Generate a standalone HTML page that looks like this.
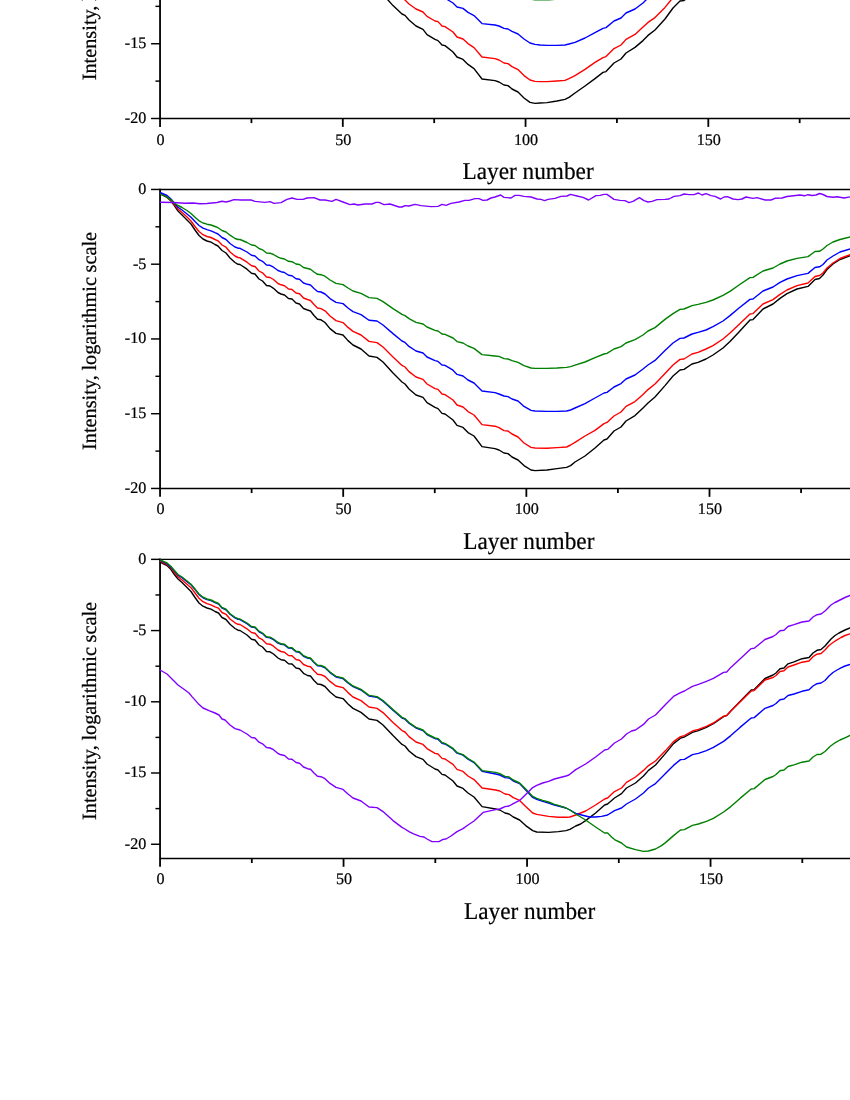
<!DOCTYPE html>
<html><head><meta charset="utf-8"><title>chart</title>
<style>
html,body{margin:0;padding:0;background:#fff;}
body{width:850px;height:1100px;overflow:hidden;}
svg{display:block;will-change:transform;text-rendering:geometricPrecision;}
text{stroke:#000;stroke-width:0.22px;font-family:"Liberation Serif",serif;fill:#000;}
</style></head><body>
<svg width="850" height="1100" viewBox="0 0 850 1100">
<rect width="850" height="1100" fill="#fff"/>
<g>
<line x1="160.05" y1="-2.00" x2="160.05" y2="119.22" stroke="#000" stroke-width="1.8"/>
<line x1="160.05" y1="118.50" x2="850.00" y2="118.50" stroke="#000" stroke-width="1.45"/>
<line x1="160.05" y1="118.50" x2="160.05" y2="126.90" stroke="#000" stroke-width="1.8"/>
<text x="160.45" y="144.50" font-size="16.1" text-anchor="middle" >0</text>
<line x1="342.80" y1="118.50" x2="342.80" y2="126.90" stroke="#000" stroke-width="1.8"/>
<text x="343.20" y="144.50" font-size="16.1" text-anchor="middle" >50</text>
<line x1="525.55" y1="118.50" x2="525.55" y2="126.90" stroke="#000" stroke-width="1.8"/>
<text x="525.95" y="144.50" font-size="16.1" text-anchor="middle" >100</text>
<line x1="708.30" y1="118.50" x2="708.30" y2="126.90" stroke="#000" stroke-width="1.8"/>
<text x="708.70" y="144.50" font-size="16.1" text-anchor="middle" >150</text>
<line x1="251.43" y1="118.50" x2="251.43" y2="123.10" stroke="#000" stroke-width="1.8"/>
<line x1="434.18" y1="118.50" x2="434.18" y2="123.10" stroke="#000" stroke-width="1.8"/>
<line x1="616.92" y1="118.50" x2="616.92" y2="123.10" stroke="#000" stroke-width="1.8"/>
<line x1="799.67" y1="118.50" x2="799.67" y2="123.10" stroke="#000" stroke-width="1.8"/>
<line x1="151.05" y1="43.75" x2="160.05" y2="43.75" stroke="#000" stroke-width="1.45"/>
<text x="146.30" y="48.15" font-size="16.1" text-anchor="end" >-15</text>
<line x1="151.05" y1="118.50" x2="160.05" y2="118.50" stroke="#000" stroke-width="1.45"/>
<text x="146.30" y="122.90" font-size="16.1" text-anchor="end" >-20</text>
<line x1="155.45" y1="6.35" x2="160.05" y2="6.35" stroke="#000" stroke-width="1.45"/>
<line x1="155.45" y1="81.10" x2="160.05" y2="81.10" stroke="#000" stroke-width="1.45"/>
<text transform="translate(528.05,179.3) scale(0.962,1)" font-size="24.2" text-anchor="middle">Layer number</text>
<text transform="translate(96,80.3) rotate(-90)" font-size="20.3" text-anchor="start" word-spacing="-0.4">Intensity, logarithmic scale</text>
<line x1="160.05" y1="188.72" x2="160.05" y2="489.18" stroke="#000" stroke-width="1.8"/>
<line x1="160.05" y1="189.45" x2="850.00" y2="189.45" stroke="#000" stroke-width="1.45"/>
<line x1="160.05" y1="488.45" x2="850.00" y2="488.45" stroke="#000" stroke-width="1.45"/>
<line x1="160.05" y1="488.45" x2="160.05" y2="496.85" stroke="#000" stroke-width="1.8"/>
<text x="160.45" y="514.45" font-size="16.1" text-anchor="middle" >0</text>
<line x1="343.20" y1="488.45" x2="343.20" y2="496.85" stroke="#000" stroke-width="1.8"/>
<text x="343.60" y="514.45" font-size="16.1" text-anchor="middle" >50</text>
<line x1="526.35" y1="488.45" x2="526.35" y2="496.85" stroke="#000" stroke-width="1.8"/>
<text x="526.75" y="514.45" font-size="16.1" text-anchor="middle" >100</text>
<line x1="709.50" y1="488.45" x2="709.50" y2="496.85" stroke="#000" stroke-width="1.8"/>
<text x="709.90" y="514.45" font-size="16.1" text-anchor="middle" >150</text>
<line x1="251.62" y1="488.45" x2="251.62" y2="493.05" stroke="#000" stroke-width="1.8"/>
<line x1="434.77" y1="488.45" x2="434.77" y2="493.05" stroke="#000" stroke-width="1.8"/>
<line x1="617.92" y1="488.45" x2="617.92" y2="493.05" stroke="#000" stroke-width="1.8"/>
<line x1="801.08" y1="488.45" x2="801.08" y2="493.05" stroke="#000" stroke-width="1.8"/>
<line x1="151.05" y1="189.45" x2="160.05" y2="189.45" stroke="#000" stroke-width="1.45"/>
<text x="146.30" y="193.85" font-size="16.1" text-anchor="end" >0</text>
<line x1="151.05" y1="264.20" x2="160.05" y2="264.20" stroke="#000" stroke-width="1.45"/>
<text x="146.30" y="268.60" font-size="16.1" text-anchor="end" >-5</text>
<line x1="151.05" y1="338.95" x2="160.05" y2="338.95" stroke="#000" stroke-width="1.45"/>
<text x="146.30" y="343.35" font-size="16.1" text-anchor="end" >-10</text>
<line x1="151.05" y1="413.70" x2="160.05" y2="413.70" stroke="#000" stroke-width="1.45"/>
<text x="146.30" y="418.10" font-size="16.1" text-anchor="end" >-15</text>
<line x1="151.05" y1="488.45" x2="160.05" y2="488.45" stroke="#000" stroke-width="1.45"/>
<text x="146.30" y="492.85" font-size="16.1" text-anchor="end" >-20</text>
<line x1="155.45" y1="226.80" x2="160.05" y2="226.80" stroke="#000" stroke-width="1.45"/>
<line x1="155.45" y1="301.60" x2="160.05" y2="301.60" stroke="#000" stroke-width="1.45"/>
<line x1="155.45" y1="376.30" x2="160.05" y2="376.30" stroke="#000" stroke-width="1.45"/>
<line x1="155.45" y1="451.10" x2="160.05" y2="451.10" stroke="#000" stroke-width="1.45"/>
<text transform="translate(528.85,549.3) scale(0.962,1)" font-size="24.2" text-anchor="middle">Layer number</text>
<text transform="translate(96,450.0) rotate(-90)" font-size="20.3" text-anchor="start" word-spacing="-0.4">Intensity, logarithmic scale</text>
<line x1="160.05" y1="558.62" x2="160.05" y2="859.12" stroke="#000" stroke-width="1.8"/>
<line x1="160.05" y1="559.35" x2="850.00" y2="559.35" stroke="#000" stroke-width="1.45"/>
<line x1="160.05" y1="858.40" x2="850.00" y2="858.40" stroke="#000" stroke-width="1.45"/>
<line x1="160.05" y1="858.40" x2="160.05" y2="866.80" stroke="#000" stroke-width="1.8"/>
<text x="160.45" y="884.40" font-size="16.1" text-anchor="middle" >0</text>
<line x1="343.55" y1="858.40" x2="343.55" y2="866.80" stroke="#000" stroke-width="1.8"/>
<text x="343.95" y="884.40" font-size="16.1" text-anchor="middle" >50</text>
<line x1="527.05" y1="858.40" x2="527.05" y2="866.80" stroke="#000" stroke-width="1.8"/>
<text x="527.45" y="884.40" font-size="16.1" text-anchor="middle" >100</text>
<line x1="710.55" y1="858.40" x2="710.55" y2="866.80" stroke="#000" stroke-width="1.8"/>
<text x="710.95" y="884.40" font-size="16.1" text-anchor="middle" >150</text>
<line x1="251.80" y1="858.40" x2="251.80" y2="863.00" stroke="#000" stroke-width="1.8"/>
<line x1="435.30" y1="858.40" x2="435.30" y2="863.00" stroke="#000" stroke-width="1.8"/>
<line x1="618.80" y1="858.40" x2="618.80" y2="863.00" stroke="#000" stroke-width="1.8"/>
<line x1="802.30" y1="858.40" x2="802.30" y2="863.00" stroke="#000" stroke-width="1.8"/>
<line x1="151.05" y1="559.35" x2="160.05" y2="559.35" stroke="#000" stroke-width="1.45"/>
<text x="146.30" y="563.75" font-size="16.1" text-anchor="end" >0</text>
<line x1="151.05" y1="630.57" x2="160.05" y2="630.57" stroke="#000" stroke-width="1.45"/>
<text x="146.30" y="634.97" font-size="16.1" text-anchor="end" >-5</text>
<line x1="151.05" y1="701.80" x2="160.05" y2="701.80" stroke="#000" stroke-width="1.45"/>
<text x="146.30" y="706.20" font-size="16.1" text-anchor="end" >-10</text>
<line x1="151.05" y1="773.00" x2="160.05" y2="773.00" stroke="#000" stroke-width="1.45"/>
<text x="146.30" y="777.40" font-size="16.1" text-anchor="end" >-15</text>
<line x1="151.05" y1="844.25" x2="160.05" y2="844.25" stroke="#000" stroke-width="1.45"/>
<text x="146.30" y="848.65" font-size="16.1" text-anchor="end" >-20</text>
<line x1="155.45" y1="594.95" x2="160.05" y2="594.95" stroke="#000" stroke-width="1.45"/>
<line x1="155.45" y1="666.20" x2="160.05" y2="666.20" stroke="#000" stroke-width="1.45"/>
<line x1="155.45" y1="737.40" x2="160.05" y2="737.40" stroke="#000" stroke-width="1.45"/>
<line x1="155.45" y1="808.60" x2="160.05" y2="808.60" stroke="#000" stroke-width="1.45"/>
<text transform="translate(529.55,919.3) scale(0.962,1)" font-size="24.2" text-anchor="middle">Layer number</text>
<text transform="translate(96,820.0) rotate(-90)" font-size="20.3" text-anchor="start" word-spacing="-0.4">Intensity, logarithmic scale</text>
</g>
<g>
<polyline points="386.0,-2.4 388.0,0.0 393.0,5.6 402.0,14.0 405.0,15.4 409.0,20.0 416.0,26.0 423.0,29.4 427.0,34.6 435.0,39.4 438.0,40.6 442.0,45.0 445.0,45.6 453.0,52.0 457.0,57.0 463.0,59.4 468.0,64.4 474.0,68.6 482.0,79.0 495.0,80.6 499.0,82.0 504.0,85.0 508.0,85.6 512.0,89.0 518.0,92.0 524.0,98.0 530.0,102.4 535.0,103.4 540.0,103.0 547.0,102.6 557.0,101.0 565.0,99.4 569.0,97.4 575.0,93.0 585.0,86.0 595.0,78.6 603.0,72.4 606.0,71.6 614.0,63.0 621.0,59.0 626.0,53.0 635.0,47.4 643.0,40.6 648.0,35.4 655.0,30.0 665.0,19.0 673.0,8.0 680.0,1.0 684.0,0.6 688.0,-3.0" fill="none" stroke="#000000" stroke-width="1.4" stroke-linejoin="round" stroke-linecap="butt"/>
<polyline points="403.0,-2.4 405.0,0.0 409.0,4.0 416.0,9.0 423.0,12.0 427.0,16.4 435.0,21.0 438.0,21.6 442.0,26.0 445.0,26.6 453.0,32.0 457.0,37.0 463.0,39.0 468.0,43.6 474.0,47.6 482.0,57.0 495.0,58.6 499.0,60.0 504.0,63.0 508.0,63.6 512.0,66.6 518.0,69.6 524.0,75.6 530.0,80.0 535.0,81.4 540.0,81.6 547.0,81.6 557.0,81.0 565.0,80.4 569.0,78.6 575.0,75.6 585.0,69.4 595.0,62.4 603.0,57.6 606.0,56.6 614.0,48.6 621.0,45.0 626.0,39.4 635.0,34.4 643.0,27.0 648.0,22.4 655.0,17.6 665.0,7.4 671.0,0.0 673.0,-2.4" fill="none" stroke="#ff0000" stroke-width="1.4" stroke-linejoin="round" stroke-linecap="butt"/>
<polyline points="445.0,-2.0 448.0,0.0 453.0,3.0 457.0,7.0 463.0,8.4 468.0,12.4 474.0,15.6 482.0,23.6 495.0,25.0 499.0,26.0 504.0,28.4 508.0,29.0 512.0,31.4 518.0,34.0 524.0,39.0 530.0,43.0 535.0,44.4 540.0,45.0 547.0,45.4 557.0,45.4 565.0,45.0 569.0,44.0 575.0,42.4 585.0,38.0 595.0,32.6 603.0,28.4 606.0,27.6 614.0,21.0 621.0,18.0 626.0,13.0 635.0,9.0 643.0,3.0 646.0,0.0 648.0,-2.4" fill="none" stroke="#0000ff" stroke-width="1.4" stroke-linejoin="round" stroke-linecap="butt"/>
<polyline points="522.0,-3.0 529.0,-1.0 535.0,-0.3 542.0,-0.1 549.0,-0.3 555.0,-0.7 559.0,-1.0 566.0,-3.0" fill="none" stroke="#008000" stroke-width="1.4" stroke-linejoin="round" stroke-linecap="butt"/>
<polyline points="160.0,193.5 167.0,197.5 171.0,201.0 174.0,205.0 178.0,211.0 182.0,215.0 187.0,220.0 191.0,224.0 195.0,230.0 199.0,235.5 203.0,239.0 207.0,241.0 211.0,242.2 215.0,244.5 218.0,246.0 222.0,250.5 226.0,253.0 230.0,258.0 235.0,262.5 238.0,264.3 240.0,264.5 247.0,269.2 251.5,273.2 255.0,274.0 259.0,279.0 262.5,281.0 266.5,285.5 270.0,286.0 273.5,288.3 278.0,292.5 281.0,294.0 284.5,295.0 288.5,298.5 292.0,299.0 296.0,303.0 299.5,304.0 303.5,308.5 307.5,310.0 310.5,311.0 314.0,315.5 317.5,319.2 321.0,319.8 325.0,322.5 330.0,328.6 336.0,333.4 343.0,335.0 348.0,340.6 353.0,345.0 361.0,349.0 369.0,356.0 377.0,357.4 383.0,362.0 393.0,373.0 402.0,382.0 405.0,384.0 409.0,389.0 416.0,395.0 423.0,397.4 427.0,402.6 435.0,407.4 438.0,408.6 442.0,413.4 445.0,414.0 453.0,420.0 457.0,425.4 463.0,427.4 468.0,432.6 474.0,436.0 482.0,446.6 495.0,448.6 499.0,450.0 504.0,453.0 508.0,453.6 512.0,457.0 518.0,460.0 524.0,465.6 531.0,470.0 535.0,470.6 547.0,470.0 557.0,468.6 566.6,467.4 570.6,465.6 575.0,462.0 585.0,456.0 595.0,448.0 604.0,440.0 607.0,439.0 614.0,431.0 621.0,427.0 626.0,421.0 635.0,415.6 643.0,408.0 648.0,403.0 655.0,397.0 665.0,385.6 673.0,376.0 680.0,370.0 684.0,369.4 692.0,364.0 698.0,362.4 706.0,359.0 713.0,355.0 723.0,348.0 730.0,341.6 739.0,332.0 750.0,320.0 753.0,319.6 763.0,309.0 773.0,304.0 780.0,298.4 787.0,293.6 797.0,289.0 808.0,286.4 815.0,279.5 819.5,278.5 823.0,275.0 827.0,269.5 833.0,264.0 840.0,259.5 851.0,255.3" fill="none" stroke="#000000" stroke-width="1.4" stroke-linejoin="round" stroke-linecap="butt"/>
<polyline points="160.0,193.5 167.0,197.2 171.0,200.5 174.0,204.0 178.0,209.0 182.0,212.5 187.0,217.0 191.0,221.0 195.0,226.5 199.0,231.5 203.0,234.7 207.0,236.5 211.0,237.5 215.0,239.5 218.0,240.8 222.0,245.0 226.0,247.2 230.0,252.0 235.0,256.0 238.0,257.5 240.0,257.8 247.0,262.2 251.5,265.8 255.0,266.5 259.0,271.0 262.5,272.8 266.5,277.0 270.0,277.5 273.5,279.5 278.0,283.5 281.0,284.8 284.5,285.7 288.5,289.0 292.0,289.5 296.0,293.0 299.5,293.7 303.5,298.0 307.5,299.5 310.5,300.5 314.0,304.5 317.5,308.0 321.0,308.6 325.0,310.8 330.0,316.0 336.0,320.6 343.0,322.6 348.0,327.4 353.0,331.4 361.0,335.0 369.0,341.4 377.0,342.6 383.0,347.0 393.0,357.0 402.0,365.4 405.0,367.0 409.0,371.6 416.0,377.0 423.0,379.4 427.0,384.0 435.0,388.6 438.0,389.4 442.0,394.0 445.0,394.6 453.0,400.0 457.0,405.0 463.0,407.0 468.0,411.6 474.0,415.0 482.0,424.6 495.0,426.2 499.0,427.6 504.0,430.6 508.0,431.0 512.0,434.0 518.0,437.0 524.0,443.0 531.0,447.4 535.0,448.0 547.0,448.2 557.0,447.6 566.6,447.0 570.6,445.0 575.0,442.4 585.0,436.0 595.0,430.4 604.0,423.6 607.0,422.4 614.0,416.0 621.0,412.0 626.0,406.4 635.0,401.6 643.0,394.4 648.0,389.6 655.0,384.0 665.0,373.4 673.0,365.0 680.0,359.4 684.0,359.0 692.0,354.0 698.0,352.4 706.0,349.0 713.0,345.6 723.0,339.0 730.0,333.0 739.0,324.4 750.0,314.0 753.0,313.6 763.0,304.0 773.0,299.6 780.0,294.4 787.0,290.0 797.0,285.6 808.0,283.0 815.0,276.5 819.5,275.5 823.0,273.0 827.0,268.0 833.0,263.0 840.0,258.5 851.0,254.3" fill="none" stroke="#ff0000" stroke-width="1.4" stroke-linejoin="round" stroke-linecap="butt"/>
<polyline points="160.0,192.5 167.0,195.5 171.0,199.0 174.0,202.8 178.0,207.2 182.0,210.0 187.0,214.0 191.0,217.2 195.0,221.5 199.0,225.5 203.0,228.2 207.0,229.7 211.0,230.8 215.0,232.7 218.0,234.0 222.0,237.5 226.0,239.5 230.0,243.5 235.0,247.0 238.0,248.2 240.0,248.3 247.0,252.0 251.5,255.3 255.0,256.0 259.0,259.7 262.5,261.3 266.5,265.0 270.0,265.3 273.5,267.2 278.0,270.5 281.0,271.7 284.5,272.5 288.5,275.3 292.0,275.7 296.0,278.7 299.5,279.3 303.5,283.0 307.5,284.3 310.5,285.0 314.0,288.5 317.5,291.5 321.0,292.0 325.0,294.0 330.0,298.6 336.0,302.4 343.0,303.6 348.0,308.0 353.0,311.6 361.0,314.6 369.0,320.2 377.0,321.0 383.0,325.0 393.0,333.6 402.0,341.0 405.0,342.4 409.0,346.4 416.0,351.0 423.0,353.0 427.0,357.0 435.0,360.6 438.0,361.4 442.0,365.0 445.0,365.4 453.0,370.2 457.0,374.4 463.0,376.0 468.0,380.0 474.0,383.0 482.0,391.0 495.0,392.6 499.0,394.0 504.0,396.0 508.0,396.6 512.0,399.0 518.0,401.0 524.0,406.4 531.0,410.4 535.0,411.0 547.0,411.4 557.0,411.4 566.6,411.0 570.6,410.0 575.0,408.0 585.0,403.6 595.0,398.0 604.0,393.0 607.0,392.4 614.0,387.0 621.0,383.6 626.0,379.0 635.0,375.0 643.0,369.0 648.0,365.0 655.0,360.4 665.0,350.4 673.0,343.0 680.0,338.4 684.0,338.0 692.0,334.0 698.0,332.4 706.0,330.0 713.0,326.6 723.0,321.0 730.0,315.6 739.0,308.0 750.0,299.4 753.0,299.0 763.0,291.0 773.0,287.0 780.0,282.4 787.0,279.0 797.0,275.6 808.0,273.4 815.0,267.5 819.5,266.8 823.0,264.5 827.0,260.0 833.0,256.0 840.0,252.0 851.0,248.6" fill="none" stroke="#0000ff" stroke-width="1.4" stroke-linejoin="round" stroke-linecap="butt"/>
<polyline points="160.0,194.2 167.0,197.2 171.0,199.8 174.0,202.8 178.0,205.5 182.0,207.5 187.0,210.5 191.0,213.5 195.0,217.2 199.0,220.8 203.0,223.0 207.0,224.2 211.0,225.0 215.0,226.5 218.0,227.7 222.0,230.5 226.0,232.0 230.0,235.2 235.0,238.5 238.0,239.5 240.0,239.5 247.0,242.5 251.5,245.0 255.0,245.5 259.0,248.5 262.5,249.8 266.5,253.0 270.0,253.2 273.5,254.5 278.0,257.2 281.0,258.3 284.5,259.0 288.5,261.3 292.0,261.7 296.0,264.0 299.5,264.5 303.5,267.5 307.5,268.5 310.5,269.2 314.0,272.0 317.5,274.3 321.0,274.7 325.0,276.2 330.0,280.0 336.0,283.4 343.0,284.6 348.0,288.0 353.0,291.0 361.0,293.4 369.0,297.6 377.0,298.4 383.0,301.6 393.0,308.6 402.0,314.4 405.0,315.6 409.0,318.6 416.0,322.4 423.0,324.0 427.0,327.0 435.0,330.4 438.0,331.0 442.0,334.0 445.0,334.4 453.0,338.0 457.0,341.6 463.0,343.0 468.0,346.0 474.0,348.4 482.0,354.6 495.0,356.0 499.0,356.4 504.0,358.6 508.0,359.0 512.0,360.6 518.0,362.4 524.0,365.6 531.0,368.0 535.0,368.4 547.0,368.4 557.0,368.0 566.6,367.4 570.6,366.6 575.0,365.2 585.0,362.0 595.0,357.6 604.0,354.0 607.0,353.4 614.0,349.0 621.0,346.6 626.0,343.0 635.0,339.6 643.0,335.0 648.0,331.0 655.0,327.6 665.0,319.4 673.0,313.6 680.0,309.4 684.0,309.0 692.0,305.6 698.0,304.4 706.0,302.4 713.0,300.0 723.0,295.4 730.0,291.4 739.0,285.0 750.0,277.6 753.0,277.4 763.0,271.0 773.0,268.0 780.0,264.0 787.0,261.0 797.0,258.4 808.0,256.6 815.0,251.5 819.5,251.3 823.0,249.0 827.0,245.5 833.0,242.0 840.0,239.5 851.0,236.8" fill="none" stroke="#008000" stroke-width="1.4" stroke-linejoin="round" stroke-linecap="butt"/>
<polyline points="160.0,202.2 173.5,202.5 185.0,203.3 193.0,203.0 200.0,203.8 207.0,203.5 217.0,202.5 222.0,201.3 226.0,202.0 230.0,201.0 234.0,199.6 241.0,200.0 251.0,200.0 255.0,201.4 265.0,202.4 270.0,201.6 274.0,203.4 281.0,202.6 287.0,199.4 292.0,198.0 297.0,199.4 303.0,199.4 307.0,198.0 314.0,197.6 320.0,200.0 325.0,200.0 332.0,201.4 336.0,199.4 343.0,202.0 350.0,204.6 354.0,204.0 358.0,205.0 365.0,204.0 372.0,204.0 376.0,202.4 379.0,202.4 384.0,204.6 390.0,204.0 399.0,207.0 402.0,207.0 405.0,205.6 409.0,206.0 415.0,204.4 421.0,205.6 431.0,206.6 438.0,206.4 442.0,204.4 446.0,205.4 451.0,203.4 459.0,202.0 465.0,200.4 469.0,200.4 475.0,198.6 479.0,198.6 483.0,200.4 487.0,200.0 491.0,198.0 495.0,197.0 500.6,195.0 504.0,197.4 511.0,198.0 515.0,195.4 519.0,195.4 524.0,196.4 531.0,197.0 537.0,199.0 541.0,199.4 544.6,200.6 548.0,199.4 555.0,198.4 561.0,196.4 567.0,196.0 570.6,194.4 577.0,196.0 583.0,197.4 588.6,200.0 596.0,195.6 600.0,195.4 604.0,194.4 607.0,194.4 614.0,199.4 620.0,200.4 625.0,200.6 629.0,202.6 633.0,201.4 639.4,197.6 644.0,200.6 648.0,202.0 652.0,201.4 657.0,199.6 665.0,199.4 669.0,199.0 674.0,196.4 680.0,195.6 684.0,194.0 689.0,194.6 694.0,194.6 698.4,193.0 702.0,195.0 706.0,193.6 711.0,195.6 715.0,196.4 720.6,199.0 724.0,197.0 727.4,196.6 733.0,199.0 738.0,199.6 742.0,199.0 746.0,197.0 753.0,198.4 757.0,197.6 765.0,200.0 771.0,200.0 775.0,198.3 782.0,198.0 787.0,196.5 800.0,195.0 804.5,195.8 808.0,194.7 812.0,195.5 816.0,195.0 819.5,193.5 823.0,194.5 827.0,196.5 833.0,197.2 837.0,196.8 844.0,198.0 851.0,196.7" fill="none" stroke="#8000ff" stroke-width="1.4" stroke-linejoin="round" stroke-linecap="butt"/>
<polyline points="160.0,562.0 167.0,565.5 171.0,569.5 174.0,574.0 178.0,579.0 182.0,582.5 187.0,587.5 191.0,591.5 195.0,597.5 199.0,603.0 203.0,606.2 207.0,608.0 211.0,609.2 215.0,611.5 218.5,613.0 222.0,617.5 226.0,619.5 230.0,624.2 235.0,628.5 238.0,630.2 240.0,630.5 247.0,635.0 251.5,639.2 255.0,640.0 259.0,645.0 262.5,647.0 266.5,651.5 270.0,651.8 273.5,654.0 278.0,658.0 281.0,659.7 284.5,660.3 288.5,663.7 292.0,664.0 296.0,668.0 299.5,668.8 303.5,673.3 307.5,675.5 310.5,676.0 314.0,680.5 317.5,684.0 321.0,684.5 325.0,686.5 330.0,692.0 336.0,697.0 343.0,698.6 348.0,704.0 353.0,708.4 361.0,712.4 369.0,719.0 377.0,720.4 383.0,725.0 393.0,735.6 402.0,744.4 405.0,746.0 409.0,751.0 416.0,756.6 423.0,759.4 427.0,764.0 435.0,769.0 438.0,770.0 442.0,774.4 445.0,775.0 453.0,781.0 457.0,786.0 463.0,788.4 468.0,793.0 474.0,797.0 482.1,806.6 495.6,809.0 499.8,810.0 505.0,813.0 509.1,814.0 513.3,817.0 519.6,820.0 525.7,825.6 532.7,830.6 536.7,832.0 548.6,832.4 558.3,831.6 566.0,830.6 569.9,829.4 575.7,826.0 580.6,824.0 585.6,820.6 595.6,813.0 604.6,805.0 607.6,804.0 614.5,798.0 621.5,793.6 626.5,788.0 635.5,783.0 643.5,776.0 648.5,770.4 655.5,765.0 665.5,753.4 673.5,743.6 680.5,738.2 684.4,737.0 692.4,732.4 698.4,730.6 706.4,727.4 713.4,723.6 723.6,716.6 726.7,715.6 730.8,711.0 740.0,701.6 751.2,690.0 754.2,689.6 765.0,678.5 773.0,675.0 776.0,673.0 780.0,668.8 784.0,668.0 788.0,663.8 794.0,661.8 802.0,658.7 809.0,657.5 813.0,653.0 817.0,650.3 821.0,649.5 825.0,646.0 831.0,639.0 835.0,635.5 839.0,633.0 845.0,630.0 850.0,628.0 853.0,626.9" fill="none" stroke="#000000" stroke-width="1.4" stroke-linejoin="round" stroke-linecap="butt"/>
<polyline points="160.0,561.0 167.0,564.5 171.0,568.0 174.0,572.0 178.0,576.8 182.0,580.0 187.0,584.2 191.0,587.7 195.0,593.0 199.0,598.2 203.0,601.7 207.0,603.7 211.0,604.8 215.0,606.8 218.5,608.2 222.0,612.5 226.0,614.3 230.0,619.0 235.0,622.8 238.0,624.3 240.0,624.5 247.0,628.8 251.5,632.5 255.0,633.2 259.0,637.8 262.5,639.7 266.5,643.7 270.0,644.2 273.5,646.2 278.0,650.0 281.0,651.5 284.5,652.2 288.5,655.5 292.0,655.8 296.0,659.5 299.5,660.3 303.5,664.5 307.5,666.2 310.5,666.8 314.0,670.8 317.5,674.2 321.0,674.7 325.0,676.5 330.0,681.4 336.0,686.0 343.0,687.6 348.0,692.6 353.0,697.0 361.0,700.6 369.0,707.0 377.0,708.4 383.0,712.6 393.0,722.4 402.0,730.6 405.0,732.0 409.0,736.6 416.0,742.0 423.0,744.4 427.0,748.6 435.0,753.4 438.0,754.0 442.0,758.4 445.0,759.0 453.0,764.4 457.0,769.4 463.0,771.4 468.0,776.0 474.0,779.6 482.1,788.0 495.6,790.0 499.8,791.0 505.0,794.0 509.1,794.6 513.3,797.6 519.6,800.4 525.7,806.4 532.7,813.0 536.7,814.4 548.6,816.4 558.3,817.2 566.0,817.2 569.9,817.0 575.7,815.0 585.6,811.0 595.6,805.0 604.6,799.0 607.6,798.0 614.5,791.6 621.5,788.0 626.5,782.4 635.5,777.0 643.5,770.4 648.5,765.6 655.5,761.0 665.5,750.6 673.5,741.6 680.5,736.6 684.4,735.6 692.4,731.0 698.4,729.4 706.4,726.4 713.4,723.0 723.6,716.2 726.7,715.4 730.8,711.0 740.0,702.0 751.2,691.0 754.2,690.6 765.0,680.0 773.0,677.5 776.0,675.5 780.0,671.5 784.0,670.8 788.0,667.0 794.0,665.0 802.0,662.2 809.0,661.0 813.0,656.7 817.0,654.2 821.0,653.5 825.0,650.0 829.0,645.5 833.0,642.5 837.0,639.8 841.0,637.5 845.0,635.5 850.0,633.8 853.0,632.8" fill="none" stroke="#ff0000" stroke-width="1.4" stroke-linejoin="round" stroke-linecap="butt"/>
<polyline points="160.0,560.4 167.0,563.6 171.0,567.1 174.0,570.6 178.0,575.1 182.0,577.6 187.0,581.6 191.0,584.8 195.0,589.6 199.0,594.6 203.0,597.8 207.0,599.6 211.0,600.6 215.0,602.6 218.5,604.1 222.0,608.1 226.0,609.8 230.0,614.3 235.0,617.9 238.0,619.3 240.0,619.6 247.0,623.6 251.5,627.1 255.0,627.6 259.0,631.8 262.5,633.6 266.5,637.4 270.0,637.8 273.5,639.6 278.0,643.1 281.0,644.3 284.5,644.9 288.5,648.1 292.0,648.4 296.0,651.8 299.5,652.4 303.5,656.3 307.5,658.1 310.5,658.6 314.0,662.6 317.5,665.8 321.0,666.1 325.0,667.8 330.0,672.6 336.0,677.0 343.0,678.6 348.0,683.0 353.0,686.6 361.0,690.0 369.0,696.0 377.0,697.2 383.0,701.2 393.0,710.2 402.0,718.0 405.0,719.2 409.0,723.2 416.0,728.0 423.0,730.6 427.0,734.6 435.0,738.6 438.0,739.2 442.0,743.2 445.0,744.0 453.0,749.0 457.0,753.2 463.0,755.2 468.0,759.2 474.0,762.6 482.1,771.2 495.6,774.0 499.8,775.0 505.0,777.6 509.1,778.0 513.3,781.0 519.6,783.6 525.7,790.0 532.7,797.4 536.7,799.4 542.7,801.4 548.6,803.0 554.4,805.0 558.3,806.0 566.0,808.0 569.9,810.0 575.7,813.4 581.6,815.0 589.6,817.0 595.6,817.0 601.6,816.4 607.6,815.0 614.5,810.6 621.5,808.0 626.5,804.0 635.5,799.0 643.5,793.0 648.5,788.0 655.5,783.6 665.5,773.4 673.5,765.4 680.5,759.6 684.4,759.4 692.4,754.6 698.4,753.4 706.4,750.6 713.4,747.4 723.6,741.4 730.8,735.6 740.0,727.4 751.2,718.0 754.2,717.6 765.0,708.3 773.0,705.5 776.0,703.5 780.0,699.8 784.0,699.0 788.0,695.5 794.0,694.0 802.0,691.3 809.0,689.8 813.0,686.0 817.0,683.7 821.0,683.0 825.0,680.5 829.0,676.0 833.0,672.5 837.0,670.0 841.0,667.8 845.0,666.0 850.0,664.5 853.0,663.6" fill="none" stroke="#0000ff" stroke-width="1.4" stroke-linejoin="round" stroke-linecap="butt"/>
<polyline points="160.0,559.8 167.0,563.0 171.0,566.5 174.0,570.0 178.0,574.5 182.0,577.0 187.0,581.0 191.0,584.2 195.0,589.0 199.0,594.0 203.0,597.2 207.0,599.0 211.0,600.0 215.0,602.0 218.5,603.5 222.0,607.5 226.0,609.2 230.0,613.7 235.0,617.3 238.0,618.7 240.0,619.0 247.0,623.0 251.5,626.5 255.0,627.0 259.0,631.2 262.5,633.0 266.5,636.8 270.0,637.2 273.5,639.0 278.0,642.5 281.0,643.7 284.5,644.3 288.5,647.5 292.0,647.8 296.0,651.2 299.5,651.8 303.5,655.7 307.5,657.5 310.5,658.0 314.0,662.0 317.5,665.2 321.0,665.5 325.0,667.2 330.0,672.0 336.0,676.4 343.0,678.0 348.0,682.4 353.0,686.0 361.0,689.4 369.0,695.4 377.0,696.6 383.0,700.6 393.0,709.6 402.0,717.4 405.0,718.6 409.0,722.6 416.0,727.4 423.0,730.0 427.0,734.0 435.0,738.0 438.0,738.6 442.0,742.6 445.0,743.4 453.0,748.4 457.0,752.6 463.0,754.6 468.0,758.6 474.0,762.0 482.1,770.6 495.6,772.4 499.8,773.6 505.0,776.4 509.1,777.0 513.3,780.0 519.6,783.0 525.7,789.0 532.7,796.4 536.7,798.4 542.7,800.4 548.6,802.0 554.4,804.4 558.3,805.4 566.0,808.0 569.9,810.0 575.7,814.0 585.6,820.0 595.6,827.0 604.6,833.0 607.6,833.0 611.6,837.0 614.5,839.6 621.5,843.0 626.5,847.0 635.5,849.6 643.5,851.4 648.5,851.0 655.5,849.0 661.5,845.6 665.5,842.6 673.5,835.6 680.5,830.0 684.4,829.6 692.4,825.4 698.4,824.0 706.4,821.4 713.4,818.4 723.6,812.0 730.8,806.6 740.0,798.4 751.2,789.0 754.2,788.6 765.0,779.5 773.0,776.5 776.0,774.5 780.0,770.8 784.0,770.0 788.0,766.5 794.0,764.8 802.0,762.2 809.0,761.0 813.0,757.0 817.0,754.5 821.0,754.2 825.0,751.5 830.0,746.5 835.0,742.8 840.0,740.0 845.0,737.8 850.0,735.5 853.0,734.2" fill="none" stroke="#008000" stroke-width="1.4" stroke-linejoin="round" stroke-linecap="butt"/>
<polyline points="160.0,670.0 167.0,674.0 173.0,680.0 178.0,685.0 185.0,690.0 189.0,693.0 192.0,696.6 198.0,703.4 203.0,708.0 209.0,710.6 215.0,713.0 219.0,715.0 222.0,719.0 225.0,720.0 230.0,725.0 235.0,728.6 240.0,730.0 247.0,734.0 251.5,737.5 255.0,738.0 259.0,742.2 262.5,743.8 266.5,747.5 270.0,748.0 273.5,749.7 278.0,753.5 281.0,754.8 284.5,755.5 288.5,759.0 292.0,759.3 296.0,762.5 299.5,763.2 303.5,767.0 307.5,768.7 310.5,769.2 314.0,773.0 317.5,776.2 321.0,776.7 325.0,778.7 330.0,783.4 336.0,787.4 343.0,789.4 348.0,794.0 353.0,798.0 361.0,801.0 369.0,807.0 377.0,807.6 383.0,811.6 393.0,820.6 402.0,827.4 405.0,829.0 409.0,831.6 413.0,833.6 420.0,836.4 424.0,837.0 427.0,839.0 432.0,841.6 439.0,841.6 443.0,839.4 446.0,839.0 451.0,836.0 457.0,831.6 463.0,828.6 468.0,825.0 474.0,821.0 483.1,812.4 495.6,809.6 499.8,809.0 505.0,806.6 509.1,806.0 513.3,803.6 519.6,800.4 525.7,794.4 532.7,787.6 536.7,785.4 542.7,783.0 548.6,781.4 554.4,779.0 558.3,778.0 566.0,776.0 568.9,775.0 575.7,769.6 585.6,764.0 595.6,757.0 604.6,750.0 607.6,749.4 614.5,743.0 621.5,739.0 626.5,734.0 631.5,731.0 635.5,730.0 643.5,724.4 648.5,719.0 655.5,715.0 665.5,704.4 673.5,696.4 680.5,692.6 684.4,691.0 692.4,686.4 698.4,684.4 706.4,681.4 713.4,678.4 723.6,672.4 726.7,672.0 730.8,667.4 740.0,659.0 751.2,648.6 754.2,648.2 765.0,639.5 773.0,636.5 776.0,634.5 780.0,630.8 784.0,630.2 788.0,626.5 794.0,624.7 802.0,622.0 809.0,621.0 813.0,617.0 817.0,614.7 821.0,614.0 825.0,611.0 831.0,605.0 835.0,602.5 839.0,600.5 845.0,597.5 850.0,595.5 853.0,594.4" fill="none" stroke="#8000ff" stroke-width="1.4" stroke-linejoin="round" stroke-linecap="butt"/>
</g>
</svg>
</body></html>
